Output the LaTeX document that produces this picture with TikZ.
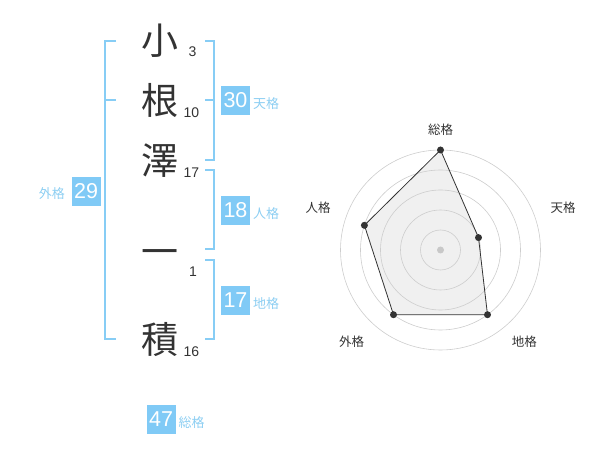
\documentclass[tikz,border=0pt]{standalone}
\usepackage{fontspec}
\setmainfont{Liberation Sans}
\newfontfamily\jpfont{Noto Sans CJK JP}
\definecolor{boxblue}{RGB}{128,202,246}
\definecolor{lineblue}{RGB}{135,205,245}
\definecolor{lblblue}{RGB}{140,206,242}
\definecolor{darktxt}{RGB}{51,51,51}
\definecolor{ringgray}{RGB}{205,205,205}
\definecolor{centergray}{RGB}{200,200,200}
\definecolor{polyfill}{RGB}{240,240,240}
\tikzset{
  kanji/.style={font=\jpfont\fontsize{37}{37}\selectfont, text=darktxt, inner sep=0pt, anchor=center},
  strokenum/.style={font=\fontsize{14}{14}\selectfont, text=darktxt, inner sep=0pt, anchor=base},
  numbox/.style={fill=boxblue, text=white, minimum width=29pt, minimum height=29pt, inner sep=0pt, font=\fontsize{21.5}{21.5}\selectfont},
  kakulbl/.style={font=\jpfont\fontsize{13}{13}\selectfont, text=lblblue, inner sep=0pt},
  bracket/.style={draw=lineblue, line width=1.8pt},
  ring/.style={draw=ringgray, line width=0.6pt},
  radarlbl/.style={font=\jpfont\fontsize{12.5}{13}\selectfont, text=darktxt, inner sep=0pt},
  vdot/.style={circle, fill=darktxt, inner sep=0pt, minimum size=7pt},
}
\begin{document}
\begin{tikzpicture}[x=1pt, y=-1pt]
\useasboundingbox (0,0) rectangle (600,470);
% kanji
\node[kanji] (k1) at (160,41) {小};
\node[kanji] (k2) at (160,100.5) {根};
\node[kanji] (k3) at (160,160.5) {澤};
\node[kanji] (k4) at (160,258) {一};
\node[kanji] (k5) at (160,340) {積};
% stroke counts
\node[strokenum] (n1) at (192.5,57) {3};
\node[strokenum] (n2) at (191.5,118) {10};
\node[strokenum] (n3) at (191.5,178) {17};
\node[strokenum] (n4) at (193,277) {1};
\node[strokenum] (n5) at (191.5,357) {16};
% brackets
\coordinate (la) at (116,40.7);
\coordinate (lb) at (116,339);
\draw[bracket] (la) -- (105,40.7) -- (105,339) -- (lb);
\draw[bracket] (105,100) -- (116,100);
\draw[bracket] (205,40.7) -- (214,40.7) -- (214,160) -- (205,160);
\draw[bracket] (205,100) -- (214,100);
\draw[bracket] (205,170) -- (214,170) -- (214,249) -- (205,249);
\draw[bracket] (205,260) -- (214,260) -- (214,339) -- (205,339);
% boxes and labels
\node[numbox] (gai) at (86.2,191.2) {29};
\node[kakulbl, anchor=east] (gail) at (65,193.5) {外格};
\node[numbox] (ten) at (235.5,100.5) {30};
\node[kakulbl, anchor=west] (tenl) at (253,104) {天格};
\node[numbox] (jin) at (235.5,210.5) {18};
\node[kakulbl, anchor=west] (jinl) at (253,214) {人格};
\node[numbox] (chi) at (235.5,300.5) {17};
\node[kakulbl, anchor=west] (chil) at (253,304) {地格};
\node[numbox] (sou) at (161.2,419.5) {47};
\node[kakulbl, anchor=west] (soul) at (178.5,423) {総格};
% radar
\coordinate (c) at (440.5,250);
\path (c) ++(0,-100) coordinate (vs);
\path (c) ++(38.0,-12.4) coordinate (vt);
\path (c) ++(47.0,64.7) coordinate (vc);
\path (c) ++(-47.0,64.7) coordinate (vg);
\path (c) ++(-76.1,-24.7) coordinate (vj);
\fill[polyfill] (vs) -- (vt) -- (vc) -- (vg) -- (vj) -- cycle;
\foreach \r in {20,40,60,80,100} \draw[ring] (c) circle[radius=\r];
\draw[draw=darktxt, line width=0.8pt, line join=round] (vs) -- (vt) -- (vc) -- (vg) -- (vj) -- cycle;
\node[circle, fill=centergray, inner sep=0pt, minimum size=7pt] (cd) at (c) {};
\node[vdot] (ds) at (vs) {};
\node[vdot] (dt) at (vt) {};
\node[vdot] (dc) at (vc) {};
\node[vdot] (dg) at (vg) {};
\node[vdot] (dj) at (vj) {};
\node[radarlbl] (rs) at (440.5,130) {総格};
\node[radarlbl] (rt) at (563,208) {天格};
\node[radarlbl] (rc) at (524.3,341.7) {地格};
\node[radarlbl] (rg) at (351.7,341.7) {外格};
\node[radarlbl] (rj) at (318,208) {人格};
\end{tikzpicture}
\end{document}
